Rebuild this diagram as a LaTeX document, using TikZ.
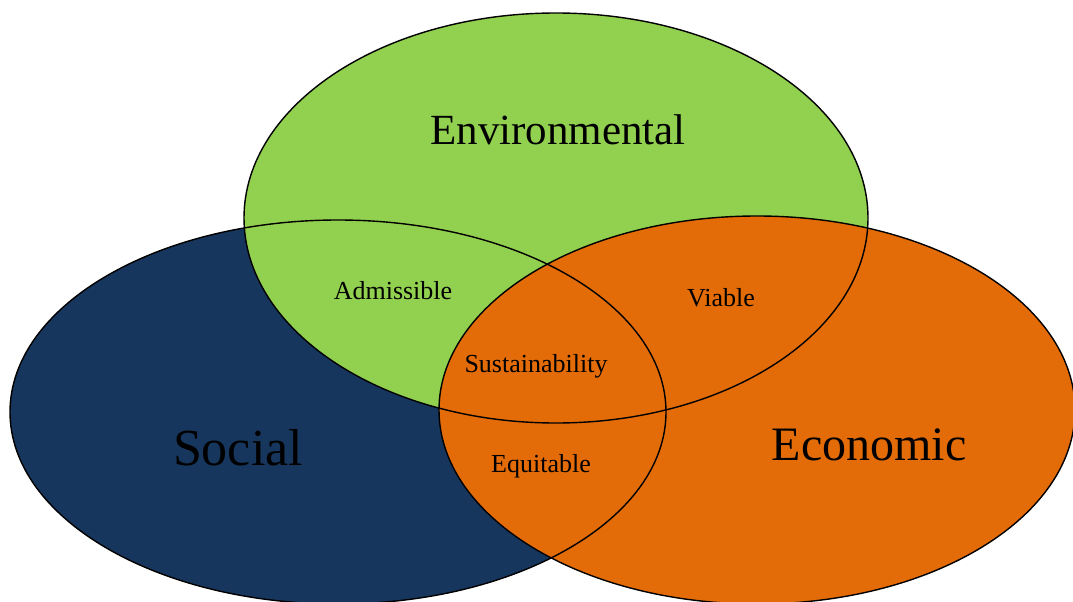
\documentclass[tikz,border=0pt]{standalone}
\usepackage{fontspec}
\setmainfont{Liberation Serif}
\definecolor{socialblue}{HTML}{17365D}
\definecolor{envgreen}{HTML}{92D050}
\definecolor{econorange}{HTML}{E36C09}
\tikzset{
  rim/.style= {draw=black, line width=1.4pt},
  area/.style= {anchor=base, inner sep=0},
  overlap/.style= {anchor=base, inner sep=0, font=\fontsize{26}{30}\selectfont},
}

\begin{document}
\begin{tikzpicture}[x=1pt, y=-1pt]
  \useasboundingbox (0,0) rectangle (1073,602);
  % fills first, outlines on top
  \fill [socialblue] (338,412) ellipse [x radius=328, y radius=192];
  \fill [envgreen] (556,218) ellipse [x radius=312, y radius=205];
  \fill [econorange] (757,410) ellipse [x radius=318, y radius=194];
  \draw [rim] (338,412) ellipse [x radius=328, y radius=192];
  \draw [rim] (556,218) ellipse [x radius=312, y radius=205];
  \draw [rim] (757,410) ellipse [x radius=318, y radius=194];

  \node [area, font=\fontsize{43}{50}\selectfont] (env) at (558,144) {Environmental};
  \node [area, font=\fontsize{52}{60}\selectfont] (soc) at (238,465) {Social};
  \node [area, font=\fontsize{48}{56}\selectfont] (eco) at (869,460) {Economic};

  \node [overlap] (adm) at (393,299) {Admissible};
  \node [overlap] (via) at (721,306) {Viable};
  \node [overlap] (sus) at (536,372) {Sustainability};
  \node [overlap] (equ) at (541,472) {Equitable};
\end{tikzpicture}
\end{document}
